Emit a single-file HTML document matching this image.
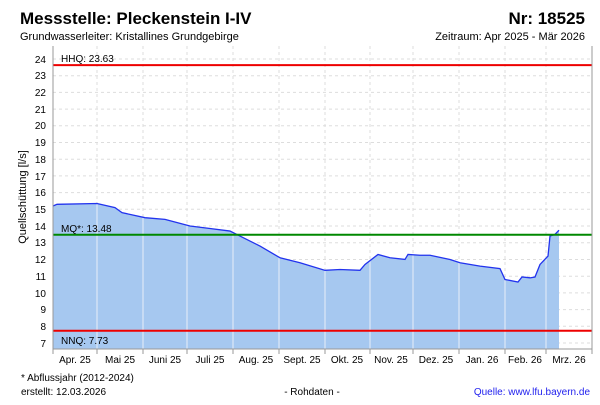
<!DOCTYPE html>
<html><head><meta charset="utf-8"><style>
body{margin:0;background:#fff;width:600px;height:400px;overflow:hidden;font-family:"Liberation Sans",sans-serif}
</style></head><body>
<svg width="600" height="400" xmlns="http://www.w3.org/2000/svg" font-family="Liberation Sans, sans-serif">
<defs><clipPath id="c"><polygon transform="translate(0,343) scale(1,-16.71) translate(0,-7)" points="53,6.64 53,15.2 57,15.3 97,15.35 115,15.1 122,14.8 145,14.5 165,14.4 190,14.0 210,13.85 230,13.7 240,13.4 260,12.8 280,12.1 300,11.8 325,11.35 340,11.4 360,11.35 365,11.7 378,12.3 390,12.1 405,12.0 408,12.3 420,12.25 430,12.25 450,12.0 460,11.8 480,11.6 500,11.45 505,10.8 518,10.65 522,10.95 530,10.9 535,10.95 540,11.7 548,12.2 550,13.4 555,13.5 559,13.75 559,6.64"/></clipPath></defs>
<text x="20" y="24" font-size="17" font-weight="bold">Messstelle: Pleckenstein I-IV</text>
<text x="585" y="24" font-size="17" font-weight="bold" text-anchor="end">Nr: 18525</text>
<text x="20" y="40" font-size="11">Grundwasserleiter: Kristallines Grundgebirge</text>
<text x="585" y="40" font-size="11" text-anchor="end">Zeitraum: Apr 2025 - Mär 2026</text>
<g stroke="#ddd" stroke-dasharray="3,3" stroke-width="1">
<line x1="53" x2="592" y1="343" y2="343"/><line x1="53" x2="592" y1="326.3" y2="326.3"/><line x1="53" x2="592" y1="309.6" y2="309.6"/><line x1="53" x2="592" y1="292.9" y2="292.9"/><line x1="53" x2="592" y1="276.2" y2="276.2"/><line x1="53" x2="592" y1="259.5" y2="259.5"/><line x1="53" x2="592" y1="242.7" y2="242.7"/><line x1="53" x2="592" y1="226" y2="226"/><line x1="53" x2="592" y1="209.3" y2="209.3"/><line x1="53" x2="592" y1="192.6" y2="192.6"/><line x1="53" x2="592" y1="175.9" y2="175.9"/><line x1="53" x2="592" y1="159.2" y2="159.2"/><line x1="53" x2="592" y1="142.5" y2="142.5"/><line x1="53" x2="592" y1="125.8" y2="125.8"/><line x1="53" x2="592" y1="109.1" y2="109.1"/><line x1="53" x2="592" y1="92.4" y2="92.4"/><line x1="53" x2="592" y1="75.7" y2="75.7"/><line x1="53" x2="592" y1="59" y2="59"/>
<line y1="46" y2="349" x1="97" x2="97"/><line y1="46" y2="349" x1="143" x2="143"/><line y1="46" y2="349" x1="187" x2="187"/><line y1="46" y2="349" x1="233" x2="233"/><line y1="46" y2="349" x1="279" x2="279"/><line y1="46" y2="349" x1="325" x2="325"/><line y1="46" y2="349" x1="370" x2="370"/><line y1="46" y2="349" x1="413" x2="413"/><line y1="46" y2="349" x1="459" x2="459"/><line y1="46" y2="349" x1="505" x2="505"/><line y1="46" y2="349" x1="546" x2="546"/>
</g>
<g transform="translate(0,343) scale(1,-16.71) translate(0,-7)">
<polygon fill="#a6c8f0" points="53,6.64 53,15.2 57,15.3 97,15.35 115,15.1 122,14.8 145,14.5 165,14.4 190,14.0 210,13.85 230,13.7 240,13.4 260,12.8 280,12.1 300,11.8 325,11.35 340,11.4 360,11.35 365,11.7 378,12.3 390,12.1 405,12.0 408,12.3 420,12.25 430,12.25 450,12.0 460,11.8 480,11.6 500,11.45 505,10.8 518,10.65 522,10.95 530,10.9 535,10.95 540,11.7 548,12.2 550,13.4 555,13.5 559,13.75 559,6.64"/>
</g>
<g stroke="#e8eef8" stroke-width="1" clip-path="url(#c)">
<line y1="46" y2="349" x1="97" x2="97"/><line y1="46" y2="349" x1="143" x2="143"/><line y1="46" y2="349" x1="187" x2="187"/><line y1="46" y2="349" x1="233" x2="233"/><line y1="46" y2="349" x1="279" x2="279"/><line y1="46" y2="349" x1="325" x2="325"/><line y1="46" y2="349" x1="370" x2="370"/><line y1="46" y2="349" x1="413" x2="413"/><line y1="46" y2="349" x1="459" x2="459"/><line y1="46" y2="349" x1="505" x2="505"/><line y1="46" y2="349" x1="546" x2="546"/>
</g>
<g transform="translate(0,343) scale(1,-16.71) translate(0,-7)">
<polyline fill="none" stroke="#2233ee" stroke-width="1.3" vector-effect="non-scaling-stroke" points="53,15.2 57,15.3 97,15.35 115,15.1 122,14.8 145,14.5 165,14.4 190,14.0 210,13.85 230,13.7 240,13.4 260,12.8 280,12.1 300,11.8 325,11.35 340,11.4 360,11.35 365,11.7 378,12.3 390,12.1 405,12.0 408,12.3 420,12.25 430,12.25 450,12.0 460,11.8 480,11.6 500,11.45 505,10.8 518,10.65 522,10.95 530,10.9 535,10.95 540,11.7 548,12.2 550,13.4 555,13.5 559,13.75"/>
</g>
<line x1="53" x2="592" y1="65.1" y2="65.1" stroke="#e00" stroke-width="2"/>
<line x1="53" x2="592" y1="234.7" y2="234.7" stroke="#080" stroke-width="2"/>
<line x1="53" x2="592" y1="330.8" y2="330.8" stroke="#e00" stroke-width="2"/>
<g font-size="10"><text x="61" y="62">HHQ: 23.63</text><text x="61" y="232">MQ*: 13.48</text><text x="61" y="344">NNQ: 7.73</text></g>
<g stroke="#999" fill="none"><line x1="53" x2="53" y1="46" y2="350"/><line x1="53" x2="592" y1="349" y2="349"/><line x1="592" x2="592" y1="46" y2="354"/></g>
<g stroke="#999"><line x1="53" x2="53" y1="349" y2="354"/><line x1="97" x2="97" y1="349" y2="354"/><line x1="143" x2="143" y1="349" y2="354"/><line x1="187" x2="187" y1="349" y2="354"/><line x1="233" x2="233" y1="349" y2="354"/><line x1="279" x2="279" y1="349" y2="354"/><line x1="325" x2="325" y1="349" y2="354"/><line x1="370" x2="370" y1="349" y2="354"/><line x1="413" x2="413" y1="349" y2="354"/><line x1="459" x2="459" y1="349" y2="354"/><line x1="505" x2="505" y1="349" y2="354"/><line x1="546" x2="546" y1="349" y2="354"/></g>
<g font-size="10" text-anchor="end">
<text x="46" y="347">7</text><text x="46" y="330">8</text><text x="46" y="313">9</text><text x="46" y="297">10</text><text x="46" y="280">11</text><text x="46" y="263">12</text><text x="46" y="246">13</text><text x="46" y="230">14</text><text x="46" y="213">15</text><text x="46" y="196">16</text><text x="46" y="180">17</text><text x="46" y="163">18</text><text x="46" y="146">19</text><text x="46" y="129">20</text><text x="46" y="113">21</text><text x="46" y="96">22</text><text x="46" y="79">23</text><text x="46" y="63">24</text>
</g>
<text transform="translate(26,197) rotate(-90)" font-size="11" text-anchor="middle">Quellschüttung [l/s]</text>
<g font-size="10" text-anchor="middle">
<text x="75" y="363">Apr. 25</text><text x="120" y="363">Mai 25</text><text x="165" y="363">Juni 25</text><text x="210" y="363">Juli 25</text><text x="256" y="363">Aug. 25</text><text x="302" y="363">Sept. 25</text><text x="347" y="363">Okt. 25</text><text x="391" y="363">Nov. 25</text><text x="436" y="363">Dez. 25</text><text x="482" y="363">Jan. 26</text><text x="525" y="363">Feb. 26</text><text x="569" y="363">Mrz. 26</text>
</g>
<text x="21" y="381" font-size="10">* Abflussjahr (2012-2024)</text>
<text x="21" y="395" font-size="10">erstellt:  12.03.2026</text>
<text x="312" y="395" font-size="10" text-anchor="middle">- Rohdaten -</text>
<text x="590" y="395" font-size="10" text-anchor="end" fill="#22e">Quelle: www.lfu.bayern.de</text>
</svg>
</body></html>
